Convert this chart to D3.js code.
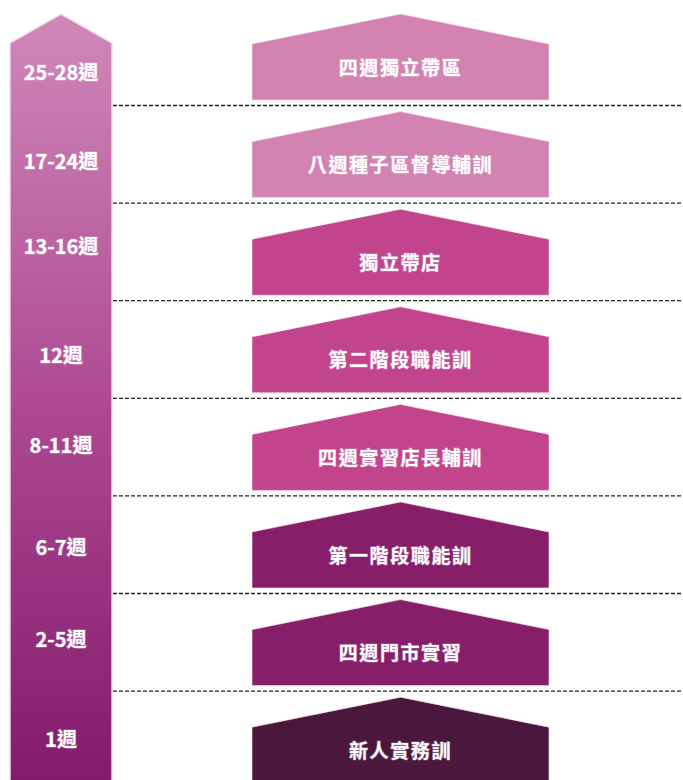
<!DOCTYPE html>
<html>
<head>
<meta charset="utf-8">
<script src="https://cdn.jsdelivr.net/npm/d3@7"></script>
<style>
  html, body { margin: 0; padding: 0; background: #fff; }
  svg { display: block; }
  text { font-family: "Noto Sans CJK TC", "Noto Sans CJK SC", sans-serif; font-weight: 700; }
</style>
</head>
<body>
<svg id="chart" width="683" height="780"></svg>
<script>
// ---- data (top to bottom) ----
const weeks  = ["25-28週", "17-24週", "13-16週", "12週", "8-11週", "6-7週", "2-5週", "1週"];
const stages = ["四週獨立帶區", "八週種子區督導輔訓", "獨立帶店", "第二階段職能訓", "四週實習店長輔訓", "第一階段職能訓", "四週門市實習", "新人實務訓"];
const phases = ["p4", "p4", "p3", "p3", "p3", "p2", "p2", "p1"];
const phaseNames  = ["p4", "p3", "p2", "p1"];
const phaseColors = ["#d283b2", "#c1448d", "#861e6a", "#4a183c"];

// layout tweaks for the left week labels (px, relative to row centre)
const weekNudge = [14, 6, -7, 4, -3, 1, -4, -2];

const W = 683, H = 780;
const svg = d3.select("#chart");

const n = stages.length;
const rowTop = d3.scaleLinear().domain([0, n]).range([8.4, 8.4 + 97.6 * n]);
const color = d3.scaleOrdinal().domain(phaseNames).range(phaseColors);

// ---- left timeline arrow with gradient ----
const defs = svg.append("defs");
const grad = defs.append("linearGradient")
  .attr("id", "lg").attr("x1", 0).attr("y1", 0).attr("x2", 0).attr("y2", 1);
grad.append("stop").attr("offset", "0%").attr("stop-color", "#d088b8");
grad.append("stop").attr("offset", "50%").attr("stop-color", "#ae4a93");
grad.append("stop").attr("offset", "100%").attr("stop-color", "#821a6c");

const aL = 10, aR = 112, aMid = (aL + aR) / 2, aTop = 14, aSh = 43;
svg.append("path")
  .attr("d", d3.line()([[aL, H + 5], [aL, aSh], [aMid, aTop], [aR, aSh], [aR, H + 5]]) + "Z")
  .attr("fill", "url(#lg)")
  .attr("stroke", "#f1dcea")
  .attr("stroke-width", 1.5);

// ---- dashed separators ----
svg.selectAll("line.sep")
  .data(d3.range(1, n))
  .join("line")
  .attr("class", "sep")
  .attr("x1", aR + 1).attr("x2", W)
  .attr("y1", d => rowTop(d) - 0.5).attr("y2", d => rowTop(d) - 0.5)
  .attr("stroke", "#222")
  .attr("stroke-width", 1.3)
  .attr("stroke-dasharray", "4,2");

// ---- week labels ----
svg.selectAll("text.week")
  .data(weeks)
  .join("text")
  .attr("class", "week")
  .attr("x", aMid)
  .attr("y", (d, i) => (rowTop(i) + rowTop(i + 1)) / 2 + weekNudge[i])
  .attr("text-anchor", "middle")
  .attr("dominant-baseline", "central")
  .attr("fill", "#fff")
  .attr("font-size", 20)
  .style("paint-order", "stroke")
  .attr("stroke", "rgba(255,240,255,0.35)")
  .attr("stroke-width", 1.2)
  .text(d => d);

// ---- stage pentagons ----
const pL = 252, pR = 549, pMid = (pL + pR) / 2;
const g = svg.selectAll("g.stage")
  .data(stages.map((s, i) => ({ s, i, ph: phases[i] })))
  .join("g")
  .attr("class", "stage");

g.append("path")
  .attr("d", d => {
    const t = rowTop(d.i) + 5.6;
    return d3.line()([[pL, t + 86], [pL, t + 30], [pMid, t], [pR, t + 30], [pR, t + 86]]) + "Z";
  })
  .attr("fill", d => color(d.ph))
  .attr("stroke", "rgba(255,225,240,0.6)")
  .attr("stroke-width", 1);

g.append("text")
  .attr("x", pMid)
  .attr("y", d => rowTop(d.i) + 5.6 + 52)
  .attr("text-anchor", "middle")
  .attr("dominant-baseline", "central")
  .attr("fill", "#fff")
  .attr("font-size", 19)
  .attr("letter-spacing", 1.6)
  .style("paint-order", "stroke")
  .attr("stroke", "rgba(255,240,255,0.35)")
  .attr("stroke-width", 1.2)
  .text(d => d.s);
</script>
</body>
</html>
